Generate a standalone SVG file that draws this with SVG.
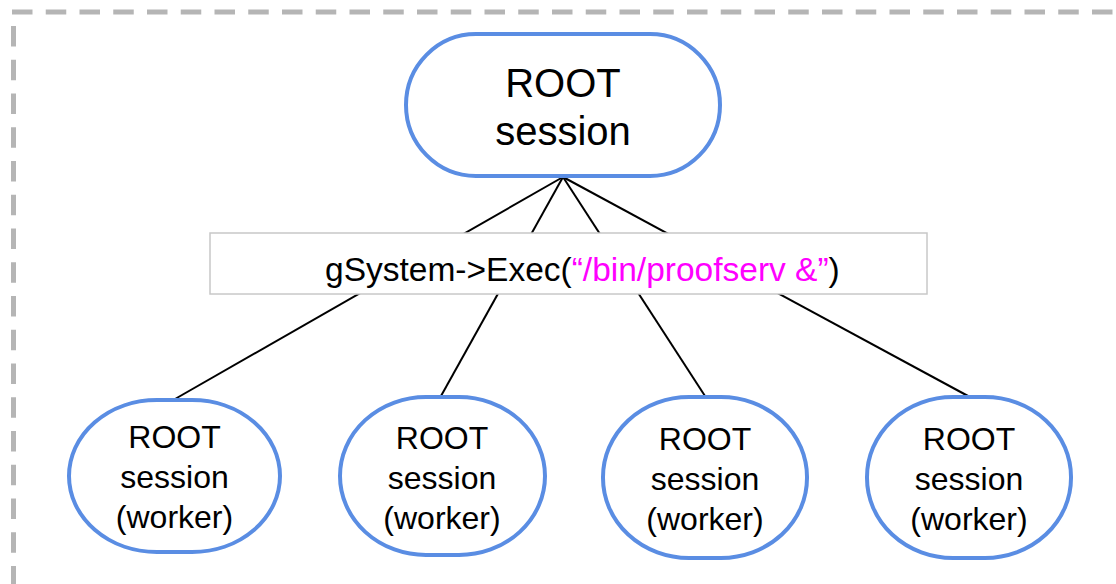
<svg xmlns="http://www.w3.org/2000/svg" width="1116" height="584" viewBox="0 0 1116 584">
<style>
.frame{fill:none;stroke:#b5b5b5;stroke-width:5;stroke-dasharray:20.5 13.25}
.node{fill:#fff;stroke:#5a8de3;stroke-width:4}
.conn{stroke:#000;stroke-width:2;fill:none}
.lbl{font-family:"Liberation Sans",Arial,sans-serif;fill:#000;text-anchor:middle}
.exec{fill:#fff;stroke:#c8c8c8;stroke-width:1.5}
</style>
<rect width="1116" height="584" fill="#fff"/>
<g id="frame">
<line class="frame" x1="12" y1="12" x2="1120" y2="12"/>
<line class="frame" x1="13.5" y1="26" x2="13.5" y2="600"/>
<line class="frame" x1="22" y1="586.5" x2="1120" y2="586.5"/>
</g>
<g id="connectors">
<line class="conn" x1="563" y1="177" x2="175" y2="399"/>
<line class="conn" x1="563" y1="177" x2="441" y2="396"/>
<line class="conn" x1="563" y1="177" x2="705" y2="396"/>
<line class="conn" x1="563" y1="177" x2="968" y2="396"/>
</g>
<g id="root">
<rect class="node" x="406" y="34" width="314" height="142" rx="70" ry="71"/>
<text class="lbl" x="563" y="97" font-size="40">ROOT</text>
<text class="lbl" x="563" y="145" font-size="40">session</text>
</g>
<g id="exec">
<rect class="exec" x="210" y="233" width="717" height="61"/>
<text font-family="'Liberation Sans',Arial,sans-serif" font-size="33.5" x="325" y="281" fill="#000">gSystem-&gt;Exec(<tspan fill="#ff00ff">“/bin/proofserv &amp;”</tspan>)</text>
</g>
<g id="worker1">
<rect class="node" x="69" y="400" width="211" height="152" rx="88" ry="76"/>
<text class="lbl" x="174.5" y="448" font-size="32">ROOT</text>
<text class="lbl" x="174.5" y="488" font-size="32">session</text>
<text class="lbl" x="174.5" y="528" font-size="32">(worker)</text>
</g>
<g id="worker2">
<rect class="node" x="340" y="397" width="205" height="158" rx="86" ry="79"/>
<text class="lbl" x="442" y="449" font-size="32">ROOT</text>
<text class="lbl" x="442" y="489" font-size="32">session</text>
<text class="lbl" x="442" y="529" font-size="32">(worker)</text>
</g>
<g id="worker3">
<rect class="node" x="603" y="397" width="204" height="161" rx="86" ry="80"/>
<text class="lbl" x="705" y="450" font-size="32">ROOT</text>
<text class="lbl" x="705" y="490" font-size="32">session</text>
<text class="lbl" x="705" y="530" font-size="32">(worker)</text>
</g>
<g id="worker4">
<rect class="node" x="867" y="397" width="204" height="161" rx="86" ry="80"/>
<text class="lbl" x="969" y="450" font-size="32">ROOT</text>
<text class="lbl" x="969" y="490" font-size="32">session</text>
<text class="lbl" x="969" y="530" font-size="32">(worker)</text>
</g>
</svg>
